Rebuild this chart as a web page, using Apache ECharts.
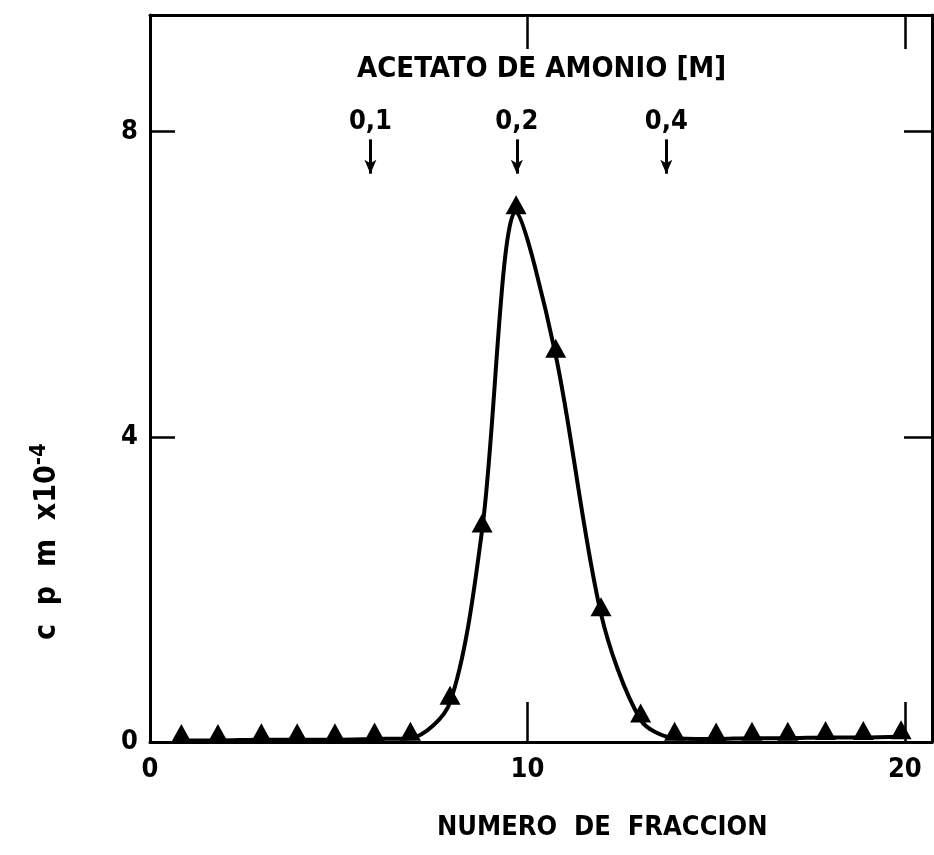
<!DOCTYPE html>
<html><head><meta charset="utf-8">
<script src="https://cdn.jsdelivr.net/npm/echarts@6/dist/echarts.min.js"></script>
<style>html,body{margin:0;padding:0;background:#fff}#c{width:934px;height:855px}</style>
</head><body><div id="c"></div>
<script>
// Fraction positions (as drawn) and cpm x10^-4 values
const fractionX = [0.83, 1.8, 2.95, 3.9, 4.9, 5.95, 6.9, 7.95, 8.8, 9.7, 10.75, 11.95, 13.0, 13.9, 15.0, 15.95, 16.9, 17.9, 18.9, 19.9];
const cpmValues = [0.02, 0.02, 0.03, 0.03, 0.03, 0.04, 0.05, 0.52, 2.78, 6.95, 5.07, 1.68, 0.29, 0.05, 0.04, 0.05, 0.05, 0.06, 0.06, 0.07];
const xTicks = [0, 10, 20];
const yTicks = [0, 4, 8];
// Ammonium acetate step annotations
const saltLabels = ['0,1', '0,2', '0,4'];
const saltX = [5.84, 9.72, 13.68];
const arrowTop = 7.9, arrowBottom = 7.45;

const FONT = '"Liberation Sans Narrow","DejaVu Sans Condensed",sans-serif';
const chart = echarts.init(document.getElementById('c'));
const lineData = fractionX.map((x, i) => [x, cpmValues[i]]);
const lbl = { color: '#000', fontSize: 27, fontFamily: FONT, fontWeight: 'bold' };

chart.setOption({
  animation: false,
  backgroundColor: '#fff',
  grid: { left: 150, top: 15, right: 2, bottom: 113, show: false },
  xAxis: [{
    type: 'value', min: 0, max: 20.72, position: 'bottom',
    axisLine: { show: true, onZero: false, lineStyle: { color: '#000', width: 3 } },
    axisTick: { show: true, inside: true, length: 40, customValues: [10, 20], lineStyle: { color: '#000', width: 2.5 } },
    axisLabel: Object.assign({ customValues: xTicks, margin: 14 }, lbl),
    splitLine: { show: false }
  }, {
    type: 'value', min: 0, max: 20.72, position: 'top',
    axisLine: { show: true, onZero: false, lineStyle: { color: '#000', width: 3 } },
    axisTick: { show: true, inside: true, length: 34, customValues: [10, 20], lineStyle: { color: '#000', width: 2.5 } },
    axisLabel: { show: false }, splitLine: { show: false }
  }],
  yAxis: [{
    type: 'value', min: 0, max: 9.53, position: 'left',
    axisLine: { show: true, onZero: false, lineStyle: { color: '#000', width: 3 } },
    axisTick: { show: true, inside: true, length: 25, customValues: [4, 8], lineStyle: { color: '#000', width: 2.5 } },
    axisLabel: Object.assign({ customValues: yTicks, margin: 12 }, lbl),
    splitLine: { show: false }
  }, {
    type: 'value', min: 0, max: 9.53, position: 'right',
    axisLine: { show: true, onZero: false, lineStyle: { color: '#000', width: 3 } },
    axisTick: { show: true, inside: true, length: 28, customValues: [4, 8], lineStyle: { color: '#000', width: 2.5 } },
    axisLabel: { show: false }, splitLine: { show: false }
  }],
  graphic: [{
    type: 'text', left: 357, top: 55,
    style: { text: 'ACETATO DE AMONIO [M]', fill: '#000', fontSize: 29, fontFamily: FONT, fontWeight: 'bold' }
  }, {
    type: 'text', left: 437, top: 814,
    style: { text: 'NUMERO  DE  FRACCION', fill: '#000', fontSize: 27, fontFamily: FONT, fontWeight: 'bold' }
  }, {
    type: 'text', x: 28, y: 640, rotation: Math.PI / 2,
    style: {
      text: 'c  p  m  x10{s|-4}', fill: '#000', fontSize: 30, fontFamily: FONT, fontWeight: 'bold',
      rich: { s: { fontSize: 22, fontFamily: FONT, fontWeight: 'bold', fill: '#000', verticalAlign: 'top', padding: [0, 0, 16, 0] } }
    }
  }],
  series: [{
    type: 'line', data: lineData, smooth: 0.3,
    symbol: 'triangle', symbolSize: [21, 19], symbolOffset: [0, -7],
    itemStyle: { color: '#000' },
    lineStyle: { color: '#000', width: 4 },
    markLine: {
      silent: true, symbol: ['none', 'arrow'], symbolSize: [9, 14],
      lineStyle: { color: '#000', width: 3, type: 'solid' },
      label: Object.assign({ show: true, position: 'start', distance: 4,
        formatter: p => p.data.name !== undefined ? p.name : '' }, lbl),
      data: saltX.map((x, i) => [{ coord: [x, arrowTop], name: saltLabels[i] }, { coord: [x, arrowBottom] }])
    }
  }]
});
</script></body></html>
